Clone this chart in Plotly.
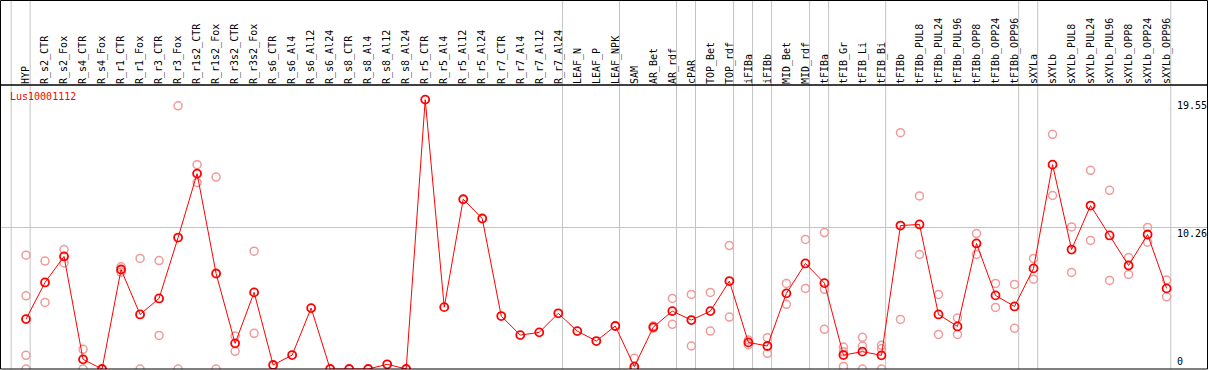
import plotly.graph_objects as go

categories = ["HYP", "R_s2_CTR", "R_s2_Fox", "R_s4_CTR", "R_s4_Fox", "R_r1_CTR", "R_r1_Fox",
              "R_r3_CTR", "R_r3_Fox", "R_r1s2_CTR", "R_r1s2_Fox", "R_r3s2_CTR", "R_r3s2_Fox",
              "R_s6_CTR", "R_s6_Al4", "R_s6_Al12", "R_s6_Al24", "R_s8_CTR", "R_s8_Al4",
              "R_s8_Al12", "R_s8_Al24", "R_r5_CTR", "R_r5_Al4", "R_r5_Al12", "R_r5_Al24",
              "R_r7_CTR", "R_r7_Al4", "R_r7_Al12", "R_r7_Al24", "LEAF_N", "LEAF_P", "LEAF_NPK",
              "SAM", "AR_Bet", "AR_rdf", "cPAR", "TOP_Bet", "TOP_rdf", "iFIBa", "iFIBb",
              "MID_Bet", "MID_rdf", "tFIBa", "tFIB_Gr", "tFIB_Li", "tFIB_Bi", "tFIBb",
              "tFIBb_PUL8", "tFIBb_PUL24", "tFIBb_PUL96", "tFIBb_OPP8", "tFIBb_OPP24",
              "tFIBb_OPP96", "sXYLa", "sXYLb", "sXYLb_PUL8", "sXYLb_PUL24", "sXYLb_PUL96",
              "sXYLb_OPP8", "sXYLb_OPP24", "sXYLb_OPP96"]

mean_values = [3.62, 6.28, 8.17, 0.70, 0.0, 7.22, 3.96, 5.12, 9.54, 14.18, 6.93, 1.86, 5.56,
               0.29, 1.01, 4.42, 0.0, 0.0, 0.0, 0.34, 0.0, 19.55, 4.49, 12.32, 10.92,
               3.84, 2.46, 2.66, 4.04, 2.75, 2.03, 3.12,
               0.17, 3.04, 4.20, 3.55, 4.20, 6.38, 1.93, 1.67, 5.49, 7.66, 6.23, 1.01, 1.26,
               0.99, 10.41, 10.49, 3.96, 3.09, 9.11, 5.34, 4.54, 7.30, 14.83, 8.67, 11.86,
               9.69, 7.51, 9.76, 5.85]

# replicate values per category (index -> list)
replicates = {
    0: [8.26, 5.31, 0.99, 0.0], 1: [7.83, 4.83], 2: [8.67, 7.70], 3: [1.43, 0.0],
    5: [7.42, 7.03], 6: [8.02, 0.0], 7: [7.87, 2.44], 8: [19.10, 0.0], 9: [14.83, 13.53],
    10: [13.93, 0.0], 11: [2.39, 1.28], 12: [8.55, 2.59],
    32: [0.78, 0.0], 33: [3.12, 2.96], 34: [5.12, 3.24], 35: [5.41, 1.67], 36: [5.56, 2.75],
    37: [8.96, 3.77], 38: [2.10, 1.76], 39: [2.27, 1.14], 40: [6.21, 4.69], 41: [9.40, 5.85],
    42: [9.90, 5.78, 2.88], 43: [1.59, 0.19, 1.25], 44: [2.30, 1.67, 0.0],
    45: [1.72, 1.47, 0.0], 46: [17.15, 3.60], 47: [12.56, 8.31], 48: [5.41, 2.51],
    49: [3.70, 2.51], 50: [9.83, 8.31], 51: [6.21, 4.47], 52: [6.14, 2.95], 53: [8.02, 6.52],
    54: [17.03, 12.59], 55: [10.31, 7.01], 56: [14.42, 9.33], 57: [12.97, 6.43],
    58: [8.09, 6.86], 59: [10.27, 9.20], 60: [6.45, 5.24],
}

group_ends = [-1, 0, 28, 31, 34, 35, 37, 38, 39, 41, 42, 45, 52, 53, 60]
right_ticks = [0, 10.26, 19.55]
right_labels = ["0", "10.26", "19.55"]
gene_name = "Lus10001112"

idx = list(range(len(categories)))
rep_x, rep_y = [], []
for k, vals in replicates.items():
    for v in vals:
        rep_x.append(k)
        rep_y.append(v)

W, H = 1209, 370
L, R, T, B = 1, 2, 85, 1
pw, ph = W - L - R, H - T - B
def px(xp):
    return (xp - L) / pw
def py(yp):
    return (H - B - yp) / ph

step = 19.01
x0pix = 26
xr = [(L - x0pix) / step, (W - R - x0pix) / step]
yscale = 13.78
yr = [0, ph / yscale]

fig = go.Figure()
fig.add_trace(go.Scatter(x=rep_x, y=rep_y, mode="markers",
                         marker=dict(symbol="circle-open", size=8, color="#f09a9a",
                                     line=dict(width=1.5)),
                         hoverinfo="skip", showlegend=False))
fig.add_trace(go.Scatter(x=idx, y=mean_values, mode="lines+markers",
                         line=dict(color="#ff0000", width=1),
                         marker=dict(symbol="circle-open", size=8, color="#ff0000",
                                     line=dict(width=1.8)),
                         showlegend=False))

shapes = []
for g in group_ends:
    shapes.append(dict(type="line", xref="x", yref="paper", x0=g + 0.22, x1=g + 0.22,
                       y0=py(369), y1=py(0), line=dict(color="#c4c4c4", width=1), layer="below"))
shapes.append(dict(type="rect", xref="paper", yref="paper", x0=px(0.5), x1=px(1207.5),
                   y0=py(369), y1=py(0.5), line=dict(color="black", width=1)))
shapes.append(dict(type="line", xref="paper", yref="paper", x0=px(0.5), x1=px(1207.5),
                   y0=py(85), y1=py(85), line=dict(color="black", width=1.5)))

annotations = [dict(text=gene_name, xref="paper", yref="paper", x=px(8), y=py(89),
                    xanchor="left", yanchor="top", showarrow=False,
                    font=dict(family="DejaVu Sans Mono", size=10, color="#ff0000"))]
for t, lab in zip(right_ticks, right_labels):
    annotations.append(dict(text=lab, xref="paper", yref="y",
                            x=px(1176), y=t, xanchor="left",
                            yanchor="bottom" if t == 0 else "top", yshift=1,
                            showarrow=False, borderpad=0,
                            font=dict(family="DejaVu Sans Mono", size=10, color="black")))

fig.update_layout(
    width=W, height=H, margin=dict(l=L, r=R, t=T, b=B, pad=0, autoexpand=False),
    paper_bgcolor="white", plot_bgcolor="white",
    xaxis=dict(range=xr, side="top", tickmode="array", tickvals=idx, ticktext=categories,
               tickangle=-90, tickfont=dict(family="DejaVu Sans Mono", size=10, color="black"),
               ticks="", showgrid=False, zeroline=False, showline=False, ticklabelstandoff=0,
               automargin=False),
    yaxis=dict(range=yr, tickvals=[10.26], showticklabels=False, showgrid=True,
               gridcolor="#c4c4c4", gridwidth=1, zeroline=False, showline=False, ticks="",
               automargin=False),
    shapes=shapes, annotations=annotations,
)
fig.write_html("out.html", config={"displayModeBar": False},
               post_script="document.body.style.margin='0';document.body.style.overflow='hidden';")
